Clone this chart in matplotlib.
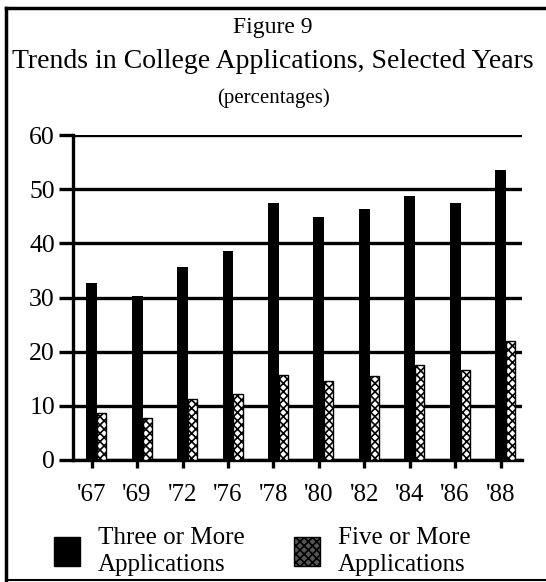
import numpy as np
import matplotlib
matplotlib.use("Agg")
import matplotlib.pyplot as plt
from matplotlib.patches import Patch
from matplotlib.lines import Line2D

# values (percent of applicants)
years = ["'67", "'69", "'72", "'76", "'78", "'80", "'82", "'84", "'86", "'88"]
three_or_more = [32.6, 30.2, 35.6, 38.5, 47.4, 44.8, 46.3, 48.7, 47.4, 53.6]
five_or_more = [8.7, 7.7, 11.2, 12.2, 15.7, 14.6, 15.5, 17.5, 16.6, 21.9]
y_ticks = [0, 10, 20, 30, 40, 50, 60]

plt.rcParams["font.family"] = ["Liberation Serif", "DejaVu Serif"]
plt.rcParams["hatch.linewidth"] = 1.2

W, H = 546, 582
fig = plt.figure(figsize=(W / 100, H / 100), dpi=100)

# axes placed in pixel terms: y axis at x=73, zero line at y=460, 60 at y=135
ax = fig.add_axes([73 / W, (H - 460) / H, (522 - 73) / W, (460 - 135) / H])

x = np.arange(len(years))
ax.bar(x, three_or_more, width=0.24, color="black", zorder=3)
ax.bar(x + 0.22, five_or_more, width=0.20, color="white", edgecolor="black",
       hatch="xxxx", linewidth=1.0, zorder=3)

ax.set_ylim(0, 60)
ax.set_xlim(-0.41, 9.47)
ax.set_yticks(y_ticks)
ax.set_xticks(x)
ax.set_xticklabels(years)
ax.yaxis.grid(True, color="black", linewidth=2.4, zorder=0)
ax.set_axisbelow(True)

for side in ["top", "right"]:
    ax.spines[side].set_visible(False)
ax.spines["left"].set_linewidth(2.4)
ax.spines["bottom"].set_linewidth(2.4)
ax.tick_params(axis="y", direction="out", length=10, width=2.4, pad=3,
               labelsize=18.5)
ax.tick_params(axis="x", direction="out", length=6, width=2.4, pad=11,
               labelsize=18)

# titles
fig.text(0.5, 1 - 28 / H, "Figure 9", ha="center", va="center", fontsize=17)
fig.text(0.5, 1 - 61 / H, "Trends in College Applications, Selected Years",
         ha="center", va="center", fontsize=20)
fig.text(0.5, 1 - 98 / H, "(percentages)", ha="center", va="center",
         fontsize=15)

# legend
handles = [Patch(facecolor="black", edgecolor="black"),
           Patch(facecolor="#555555", edgecolor="black", hatch="xxxx")]
leg = fig.legend(handles, ["Three or More\nApplications", "Five or More\nApplications"],
                 loc="lower left", bbox_to_anchor=(34 / W, -14 / H), ncol=2,
                 frameon=False, fontsize=18, handlelength=1.05, handleheight=1.4,
                 handletextpad=0.72, columnspacing=1.95, borderpad=0.3)
for t in leg.get_texts():
    t.set_linespacing(1.3)

# outer frame of the scanned page
fig.add_artist(Line2D([6 / W, 6 / W], [1 - 8 / H, 1 - 580 / H], color="black",
                      linewidth=2.5, transform=fig.transFigure))
fig.add_artist(Line2D([6 / W, 1], [1 - 8 / H, 1 - 8 / H], color="black",
                      linewidth=2.5, transform=fig.transFigure))
fig.add_artist(Line2D([6 / W, 1], [1 - 580 / H, 1 - 580 / H], color="black",
                      linewidth=1.5, transform=fig.transFigure))

fig.savefig("out.png", dpi=100)
